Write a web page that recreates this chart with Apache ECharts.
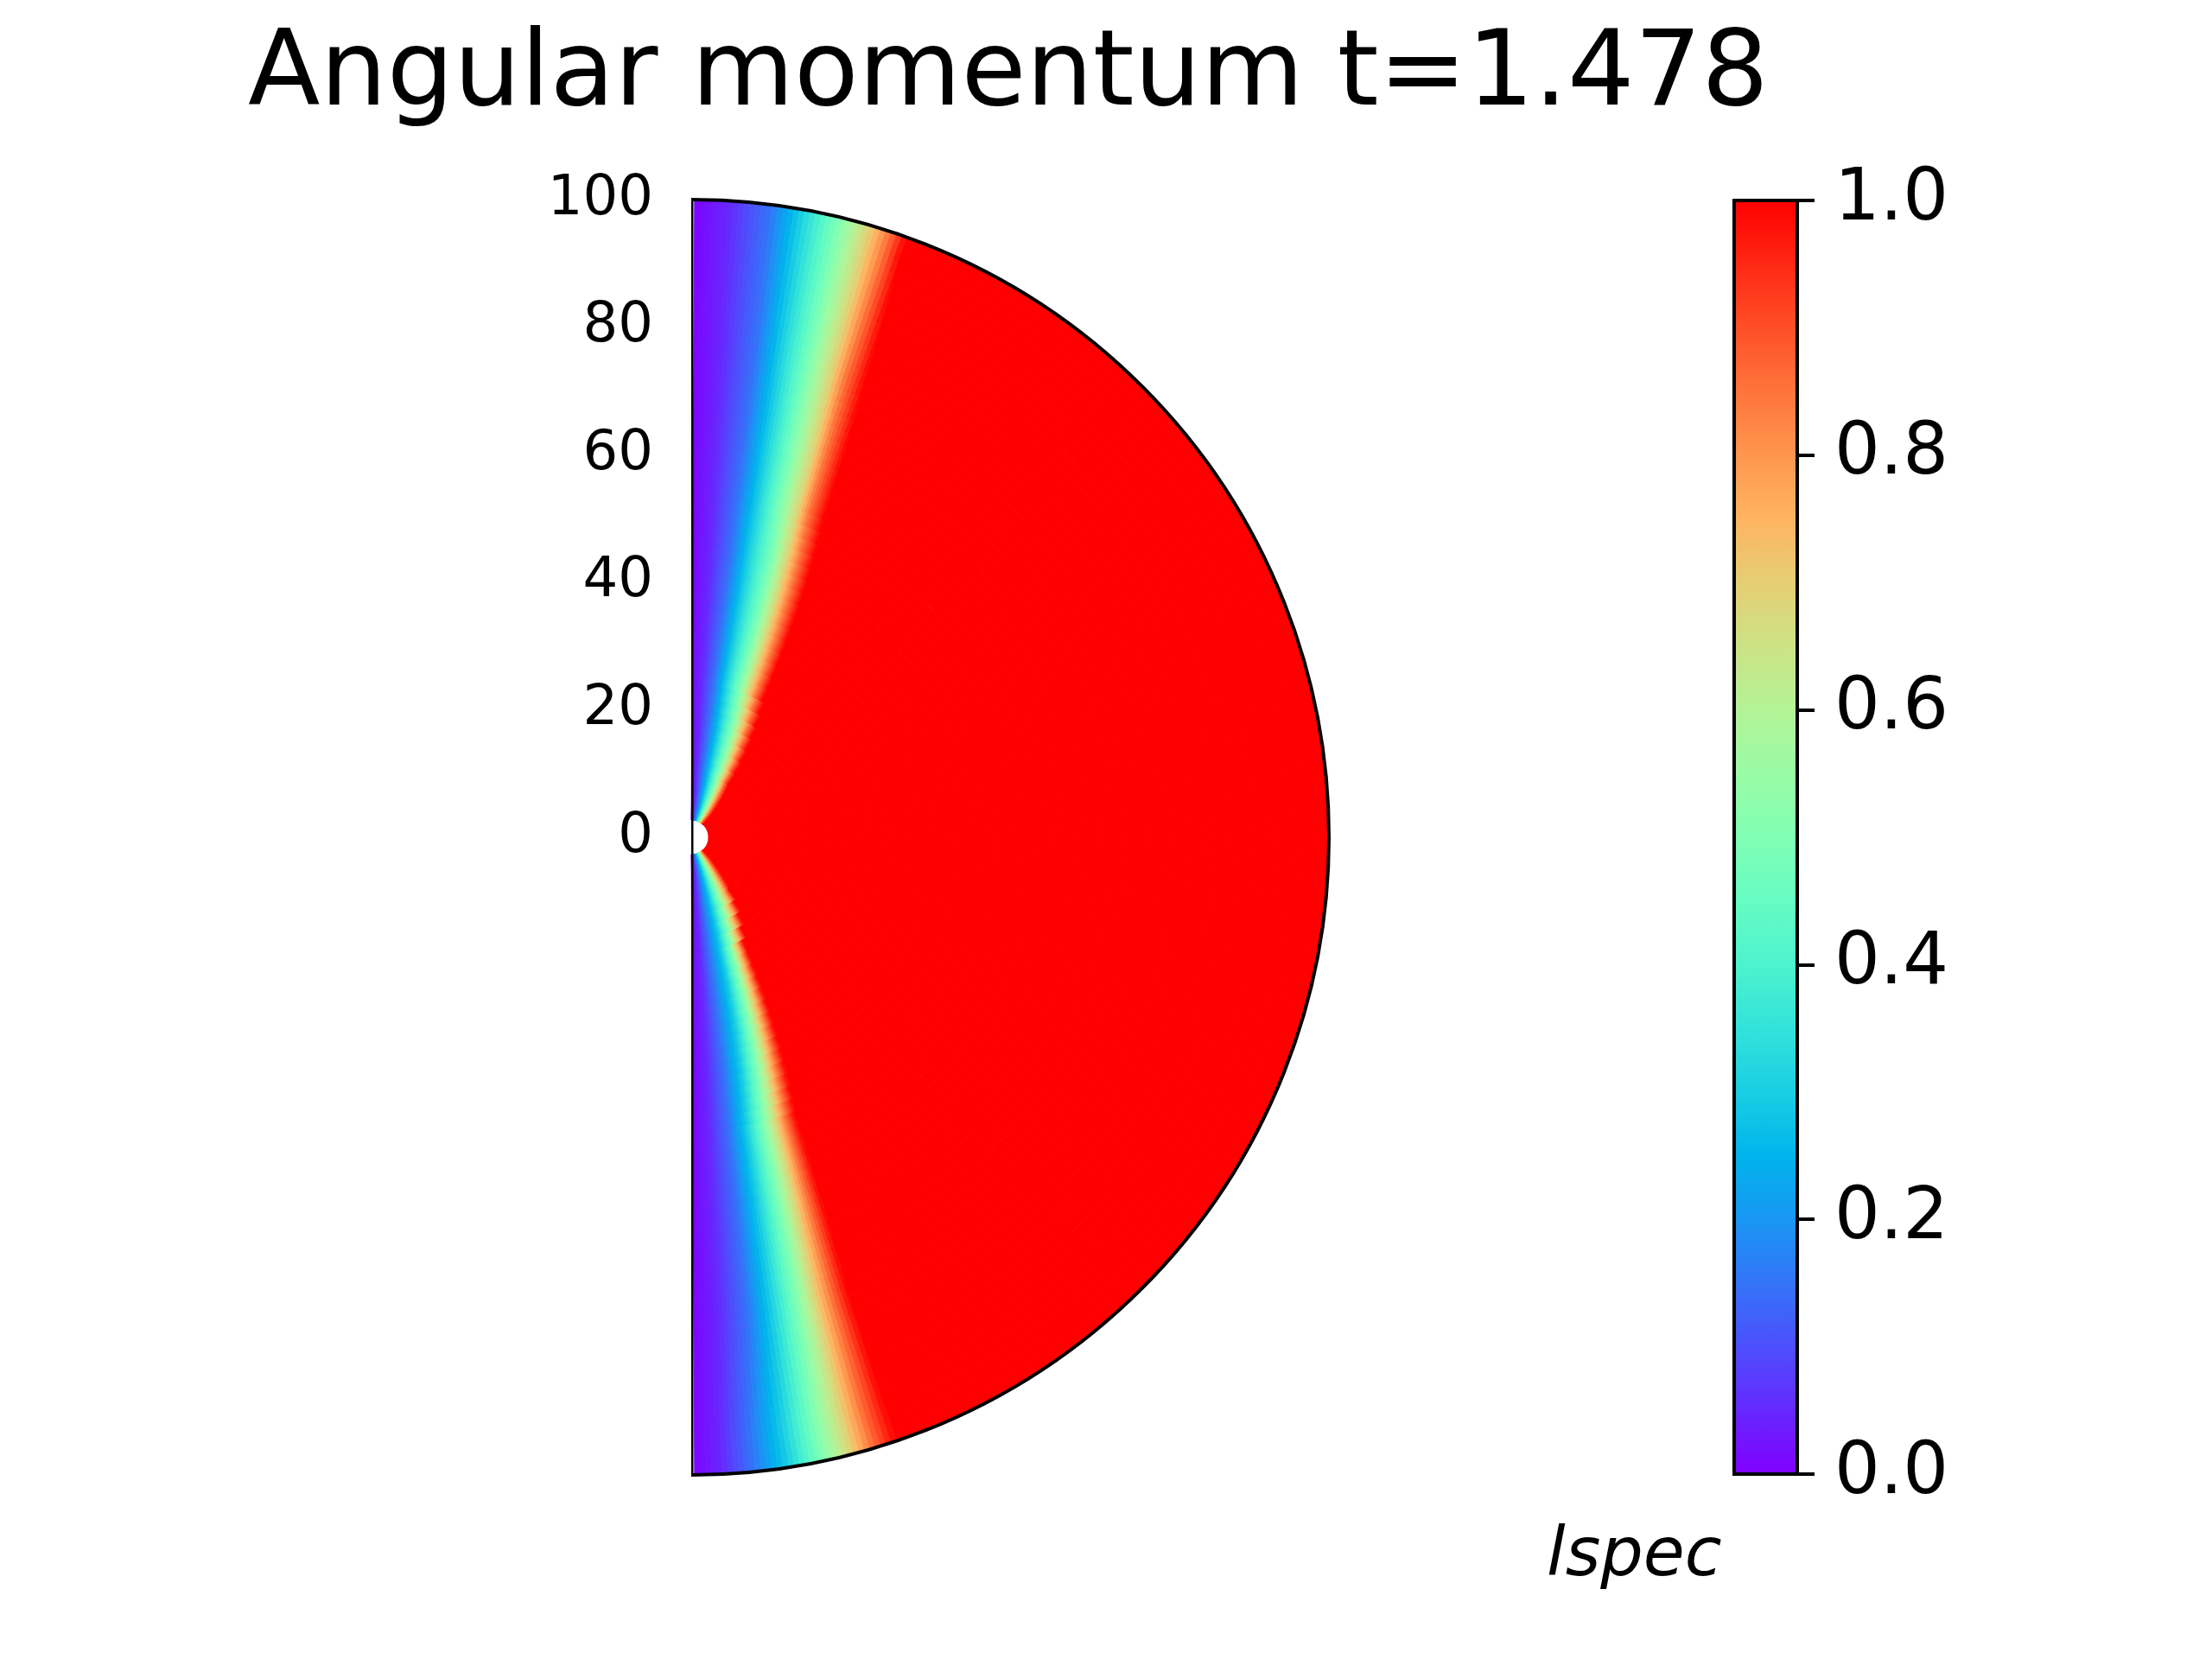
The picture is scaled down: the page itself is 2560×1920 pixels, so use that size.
<!DOCTYPE html>
<html><head><meta charset="utf-8">
<script src="https://cdn.jsdelivr.net/npm/echarts@6/dist/echarts.min.js"></script>
<style>html,body{margin:0;padding:0;background:#fff}#c{width:2560px;height:1920px}</style>
</head><body><div id="c"></div><script>
// ---------------- data ----------------
const titleText = 'Angular momentum t=1.478';
const colorbarLabel = 'lspec';
const radiusTicks = [0, 20, 40, 60, 80, 100];
const colorbarTicks = [0, 0.2, 0.4, 0.6, 0.8, 1.0];
const innerRadius = 2.7;          // white hole at the centre
const axisGapAngle = 0.3;         // data starts just off the polar axis (deg)
// lspec levels and the angle (deg, from the polar axis) where each level is reached
const levels = [0, 0.05, 0.15, 0.3, 0.5, 0.7, 0.85, 1.0];
const northRadii = [2.7, 4.4, 10, 25, 46, 54, 76, 97, 100];
const northAngles = [
  [0, 6.0, 12.0, 19.0, 27.0, 33.0, 37.0, 43.0],
  [0, 6.0, 12.0, 19.0, 27.0, 33.0, 37.0, 43.0],
  [0, 4.5, 9.9, 16.2, 23.5, 28.8, 32.0, 36.0],
  [0, 4.0, 8.4, 12.7, 18.0, 21.9, 24.5, 27.5],
  [0, 4.0, 8.0, 11.5, 16.1, 19.3, 21.4, 24.0],
  [0, 3.8, 7.8, 11.2, 15.0, 18.3, 20.0, 22.6],
  [0, 3.6, 7.6, 10.5, 14.0, 17.0, 18.6, 20.9],
  [0, 3.4, 7.2, 10.0, 13.5, 16.4, 18.2, 19.8],
  [0, 3.4, 7.2, 10.0, 13.5, 16.4, 18.2, 19.8]
];
const southRadii = [2.7, 4.4, 11, 19, 47, 75, 94, 100];
const southAngles = [
  [0, 6.0, 12.0, 19.0, 27.0, 33.0, 37.0, 43.0],
  [0, 6.0, 12.0, 19.0, 27.0, 33.0, 37.0, 43.0],
  [0, 5.0, 10.0, 17.0, 24.0, 29.5, 33.0, 36.0],
  [0, 4.5, 9.0, 15.0, 19.5, 22.5, 24.5, 26.5],
  [0, 3.6, 7.4, 10.8, 14.1, 16.8, 18.5, 20.5],
  [0, 3.3, 6.8, 9.7, 12.8, 15.2, 17.0, 19.0],
  [0, 2.8, 5.6, 8.8, 11.9, 14.7, 16.5, 18.8],
  [0, 2.8, 5.6, 8.8, 11.9, 14.7, 16.5, 18.8]
];
// matplotlib "rainbow" colormap samples at 0, 0.05, ..., 1
const rainbow = ['#8000ff','#6628fe','#4d4ffc','#3374f8','#1996f3','#00b4ec','#1acee3','#33e3da','#4df3ce','#66fcc2',
  '#80ffb4','#99fca6','#b3f396','#cce385','#e6ce74','#ffb462','#ff964f','#ff743b','#ff4f28','#ff2814','#ff0000'];

// ---------------- build cells ----------------
function levelAnglesAt(r, radii, table) {
  if (r <= radii[0]) return table[0];
  for (let i = 1; i < radii.length; i++) {
    if (r <= radii[i]) {
      const t = (r - radii[i - 1]) / (radii[i] - radii[i - 1]);
      return table[i].map((v, k) => table[i - 1][k] + t * (v - table[i - 1][k]));
    }
  }
  return table[table.length - 1];
}
function valueAt(theta, lv) {
  for (let i = 1; i < lv.length; i++) {
    if (theta <= lv[i]) return levels[i - 1] + (levels[i] - levels[i - 1]) * (theta - lv[i - 1]) / (lv[i] - lv[i - 1]);
  }
  return 1;
}
const rEdges = [];
for (let r = innerRadius; r < 9.9; r += 0.6) rEdges.push(r);
for (let r = 10; r < 100; r += 2) rEdges.push(r);
rEdges.push(100);

const cells = [];
const step = 0.5;
for (let i = 0; i < rEdges.length - 1; i++) {
  const r0 = rEdges[i], r1 = rEdges[i + 1], rm = (r0 + r1) / 2;
  const lvN = levelAnglesAt(rm, northRadii, northAngles);
  const lvS = levelAnglesAt(rm, southRadii, southAngles);
  const nEnd = lvN[lvN.length - 1], sEnd = lvS[lvS.length - 1];
  for (let a = axisGapAngle; a < nEnd; a += step) {
    const b = Math.min(a + step, nEnd);
    cells.push([r0, r1, a, b, valueAt((a + b) / 2, lvN)]);
  }
  cells.push([r0, r1, nEnd, 180 - sEnd, 1]);
  for (let a = axisGapAngle; a < sEnd; a += step) {
    const b = Math.min(a + step, sEnd);
    cells.push([r0, r1, 180 - b, 180 - a, valueAt((a + b) / 2, lvS)]);
  }
}

// ---------------- chart ----------------
const FONT = 'DejaVu Sans';
const chart = echarts.init(document.getElementById('c'), null, {renderer: 'canvas'});
chart.setOption({
  animation: false,
  backgroundColor: '#ffffff',
  title: [
    {text: titleText, left: 287, top: 28, padding: 0,
     textStyle: {fontFamily: FONT, fontSize: 122, fontWeight: 'normal', color: '#000'}},
    {text: colorbarLabel, left: 1790, top: 1764, padding: 0,
     textStyle: {fontFamily: FONT, fontSize: 78, fontWeight: 'normal', fontStyle: 'italic', color: '#000'}}
  ],
  polar: {center: [800, 969], radius: 738},
  angleAxis: {
    type: 'value', min: 0, max: 180, startAngle: 90, endAngle: -90, clockwise: true, z: 10,
    axisLine: {show: true, lineStyle: {color: '#000', width: 4}},
    axisTick: {show: false}, axisLabel: {show: false}, splitLine: {show: false}
  },
  radiusAxis: {
    type: 'value', min: 0, max: 100, interval: 20,
    axisLine: {show: false}, axisTick: {show: false}, splitLine: {show: false},
    axisLabel: {show: true, fontFamily: FONT, fontSize: 64, color: '#000', margin: 44,
      formatter: v => radiusTicks.includes(v) ? String(v) : ''}
  },
  grid: {left: 2007, top: 232, width: 73, height: 1474, show: true, borderColor: '#000', borderWidth: 4, z: 10},
  xAxis: {type: 'value', show: false, min: 0, max: 1},
  yAxis: {
    type: 'value', min: 0, max: 1, interval: 0.2, position: 'right', z: 10,
    axisLine: {show: true, onZero: false, lineStyle: {color: '#000', width: 4}},
    axisTick: {show: true, inside: false, length: 20, lineStyle: {color: '#000', width: 4}},
    axisLabel: {fontFamily: FONT, fontSize: 83, color: '#000', margin: 43,
      formatter: v => colorbarTicks.some(t => Math.abs(t - v) < 1e-9) ? v.toFixed(1) : ''},
    splitLine: {show: false}
  },
  visualMap: {
    type: 'continuous', min: 0, max: 1, dimension: 4, seriesIndex: 0,
    orient: 'vertical', left: 2007, top: 232, itemWidth: 73, itemHeight: 1474, padding: 0,
    calculable: false, text: null, hoverLink: false, z: 5,
    inRange: {color: rainbow}
  },
  series: [
    {
      type: 'custom', coordinateSystem: 'polar', z: 2, progressive: 0, silent: true,
      data: cells,
      renderItem: function (params, api) {
        const r0 = api.value(0), r1 = api.value(1), a0 = api.value(2), a1 = api.value(3);
        const n = Math.max(1, Math.ceil((a1 - a0) / 2));
        const pts = [];
        for (let k = 0; k <= n; k++) pts.push(api.coord([r1, a0 + (a1 - a0) * k / n]));
        for (let k = n; k >= 0; k--) pts.push(api.coord([r0, a0 + (a1 - a0) * k / n]));
        const c = api.visual('color');
        return {type: 'polygon', shape: {points: pts}, style: {fill: c, stroke: c, lineWidth: 1}};
      }
    },
    {
      type: 'line', coordinateSystem: 'polar', z: 8, symbol: 'none', silent: true,
      lineStyle: {color: '#000', width: 5},
      data: [[100, 0], [0, 0], [100, 180]]
    }
  ]
});
</script></body></html>
